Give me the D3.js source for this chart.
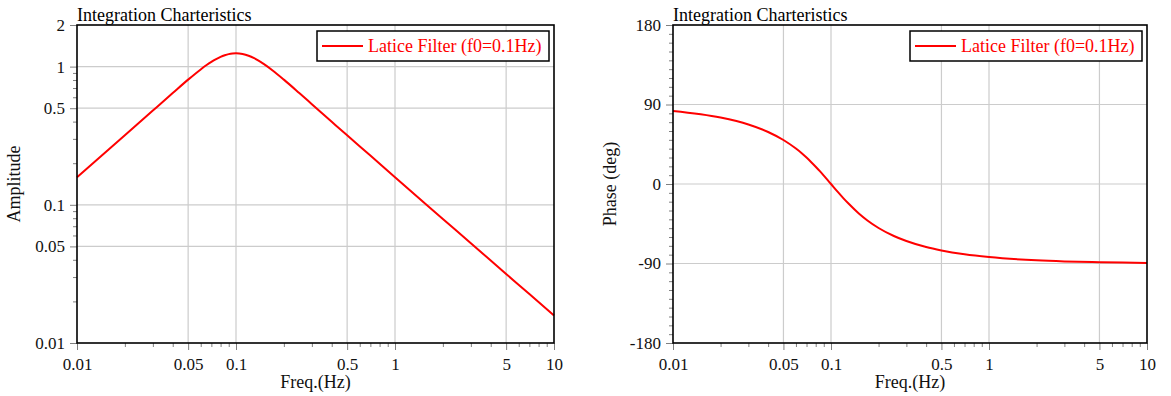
<!DOCTYPE html>
<html>
<head>
<meta charset="utf-8">
<script src="https://cdn.jsdelivr.net/npm/d3@7"></script>
<style>
  body { margin: 0; background: #ffffff; }
  svg text { font-family: "Liberation Serif", "Times New Roman", Times, "DejaVu Serif", serif; }
</style>
</head>
<body>
<div id="chart"></div>
<script>
// frequencies (Hz)
var freqs = [0.01, 0.02, 0.03, 0.04, 0.05, 0.06, 0.065, 0.07, 0.075, 0.08, 0.085, 0.09, 0.095, 0.1, 0.11, 0.12, 0.13, 0.15, 0.17, 0.2, 0.25, 0.3, 0.4, 0.5, 0.7, 1, 2, 3, 5, 7, 10];
// amplitude (left panel)
var amplitude = [0.158, 0.318, 0.481, 0.644, 0.805, 0.954, 1.022, 1.082, 1.133, 1.176, 1.208, 1.231, 1.244, 1.248, 1.234, 1.199, 1.151, 1.042, 0.938, 0.805, 0.644, 0.535, 0.399, 0.318, 0.227, 0.158, 0.079, 0.0527, 0.0316, 0.0226, 0.0158];
// phase in degrees (right panel)
var phase = [82.7, 75.2, 67.3, 58.9, 49.8, 40.1, 35.1, 29.9, 24.7, 19.6, 14.5, 9.5, 4.6, 0, -8.6, -16.2, -22.7, -33.4, -41.3, -49.8, -58.9, -64.6, -71.4, -75.2, -79.5, -82.7, -86.4, -87.6, -88.5, -89.0, -89.3];

var title = "Integration Charteristics";
var seriesName = "Latice Filter (f0=0.1Hz)";
var xLabel = "Freq.(Hz)";
var xTicks = [0.01, 0.05, 0.1, 0.5, 1, 5, 10];
var xTickLabels = ["0.01", "0.05", "0.1", "0.5", "1", "5", "10"];
var ampTicks = [0.01, 0.05, 0.1, 0.5, 1, 2];
var ampTickLabels = ["0.01", "0.05", "0.1", "0.5", "1", "2"];
var phaseTicks = [-180, -90, 0, 90, 180];
var phaseTickLabels = ["-180", "-90", "0", "90", "180"];

var width = 1171, height = 396;
var lineColor = "#ff0000";
var gridColor = "#cccccc";
var fontSize = 18;
var tickFontSize = 17;

var svg = d3.select("#chart").append("svg")
  .attr("width", width)
  .attr("height", height)
  .attr("font-family", "'Liberation Serif', 'Times New Roman', serif");

// log minor ticks (2..9 per decade) inside a domain, leaving out the majors
function logMinors(lo, hi, majors) {
  var out = [];
  for (var e = -3; e <= 2; e++) {
    for (var m = 1; m <= 9; m++) {
      var v = +(m * Math.pow(10, e)).toPrecision(6);
      if (v >= lo && v <= hi && majors.indexOf(v) == -1) out.push(v);
    }
  }
  return out;
}

function drawPanel(opt) {
  var g = svg.append("g");
  var x = d3.scaleLog().domain([0.01, 10]).range([opt.left, opt.right]);
  var y = opt.y;

  // 1. grid
  g.selectAll(".vgrid").data(xTicks.slice(1, -1)).enter().append("line")
    .attr("x1", function (d) { return x(d); }).attr("x2", function (d) { return x(d); })
    .attr("y1", opt.top).attr("y2", opt.bottom)
    .attr("stroke", gridColor).attr("stroke-width", 1.2);
  g.selectAll(".hgrid").data(opt.yTicks.slice(1, -1)).enter().append("line")
    .attr("x1", opt.left).attr("x2", opt.right)
    .attr("y1", function (d) { return y(d); }).attr("y2", function (d) { return y(d); })
    .attr("stroke", gridColor).attr("stroke-width", 1.2);

  // 2. axes (majors with labels, minors without)
  var xMajor = d3.axisBottom(x).tickValues(xTicks).tickSize(7).tickPadding(8)
    .tickFormat(function (d, i) { return xTickLabels[i]; });
  var xMinor = d3.axisBottom(x).tickValues(logMinors(0.01, 10, xTicks)).tickSize(4).tickFormat("");
  var yMajor = d3.axisLeft(y).tickValues(opt.yTicks).tickSize(7).tickPadding(5)
    .tickFormat(function (d, i) { return opt.yTickLabels[i]; });
  var yMinor = d3.axisLeft(y).tickValues(opt.yMinors).tickSize(4).tickFormat("");

  [xMajor, xMinor].forEach(function (ax) {
    g.append("g").attr("transform", "translate(0," + opt.bottom + ")").call(ax);
  });
  [yMajor, yMinor].forEach(function (ax) {
    g.append("g").attr("transform", "translate(" + opt.left + ",0)").call(ax);
  });
  g.selectAll(".domain").remove();
  g.selectAll("g").attr("font-family", null).attr("font-size", null);
  g.selectAll(".tick line").attr("stroke", "#808080");
  g.selectAll(".tick text").attr("fill", "#111111").attr("font-size", tickFontSize);

  // 3. curve
  var line = d3.line()
    .curve(d3.curveMonotoneX)
    .x(function (d) { return x(d[0]); })
    .y(function (d) { return y(d[1]); });
  g.append("path")
    .datum(d3.zip(freqs, opt.values))
    .attr("d", line)
    .attr("fill", "none")
    .attr("stroke", lineColor)
    .attr("stroke-width", 2)
    .attr("stroke-linejoin", "round");

  // 4. frame
  g.append("rect")
    .attr("x", opt.left).attr("y", opt.top)
    .attr("width", opt.right - opt.left).attr("height", opt.bottom - opt.top)
    .attr("fill", "none").attr("stroke", "#000000").attr("stroke-width", 1.6);

  // 5. texts
  g.append("text").attr("x", opt.left).attr("y", 21)
    .attr("font-size", fontSize).attr("fill", "#000").text(title);
  g.append("text").attr("x", (opt.left + opt.right) / 2).attr("y", 388)
    .attr("text-anchor", "middle").attr("font-size", fontSize).attr("fill", "#111").text(xLabel);
  g.append("text")
    .attr("transform", "translate(" + opt.yLabelX + "," + (opt.top + opt.bottom) / 2 + ")rotate(-90)")
    .attr("text-anchor", "middle").attr("font-size", fontSize).attr("fill", "#111").text(opt.yLabel);

  // 6. legend
  var lg = g.append("g").attr("transform", "translate(" + (opt.right - 237) + "," + (opt.top + 6) + ")");
  lg.append("rect").attr("width", 232).attr("height", 30)
    .attr("fill", "#ffffff").attr("stroke", "#000000").attr("stroke-width", 1.5);
  lg.append("line").attr("x1", 5).attr("x2", 46).attr("y1", 15).attr("y2", 15)
    .attr("stroke", lineColor).attr("stroke-width", 2);
  lg.append("text").attr("x", 51).attr("y", 21)
    .attr("font-size", fontSize).attr("fill", lineColor).text(seriesName);
}

var plotTop = 25, plotBottom = 343;

drawPanel({
  left: 77, right: 554, top: plotTop, bottom: plotBottom,
  y: d3.scaleLog().domain([0.01, 2]).range([plotBottom, plotTop]),
  values: amplitude,
  yTicks: ampTicks, yTickLabels: ampTickLabels,
  yMinors: logMinors(0.01, 2, ampTicks),
  yLabel: "Amplitude", yLabelX: 20
});

drawPanel({
  left: 673, right: 1147, top: plotTop, bottom: plotBottom,
  y: d3.scaleLinear().domain([-180, 180]).range([plotBottom, plotTop]),
  values: phase,
  yTicks: phaseTicks, yTickLabels: phaseTickLabels,
  yMinors: d3.range(-170, 180, 10).filter(function (d) { return d % 90 != 0; }),
  yLabel: "Phase (deg)", yLabelX: 616
});
</script>
</body>
</html>
